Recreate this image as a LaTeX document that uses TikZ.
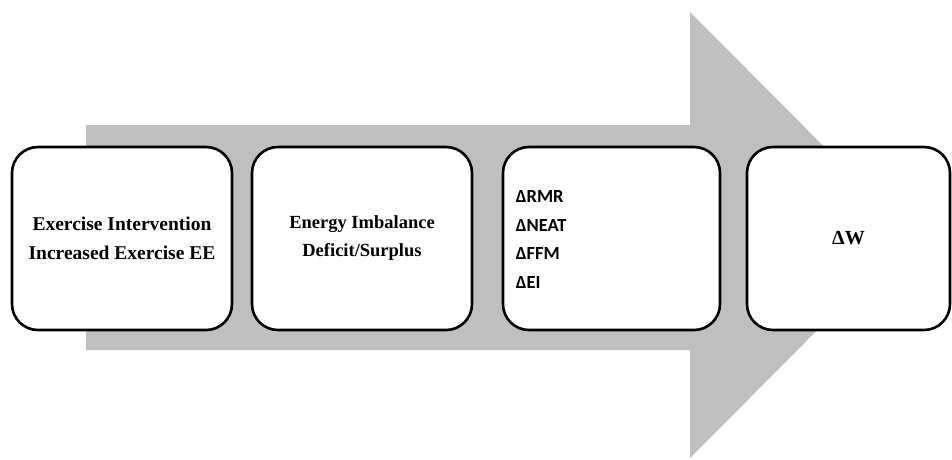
\documentclass[tikz,border=0pt]{standalone}
\usepackage{fontspec}
\setmainfont{Liberation Serif}
\newfontfamily\calibfont{Carlito}
\usetikzlibrary{positioning}
\definecolor{ArrowGray}{RGB}{191, 191, 191}
\tikzset{
  stage/.style={rectangle, rounded corners=26pt, draw=black, fill=white, line width=2.6pt,
    minimum height=183pt, align=center, inner sep=2pt, font=\fontsize{19.5}{29}\selectfont\bfseries},
  listtxt/.style={align=left, inner sep=0pt, font=\calibfont\fontsize{18.5}{28.5}\selectfont\bfseries},
}
\begin{document}
\begin{tikzpicture}[x=1pt, y=-1pt]
  \useasboundingbox (0,0) rectangle (952,459);
  % big arrow behind the stages
  \fill[ArrowGray] (86,125) -- (690,125) -- (690,12) -- (912,235) -- (690,458)
    -- (690,350) -- (86,350) -- cycle;
  \node[stage, minimum width=220pt] (inter) at (122,238.5)
    {Exercise Intervention\\Increased Exercise EE};
  \node[stage, minimum width=220pt, font=\fontsize{18.5}{28}\selectfont\bfseries] (imbal) at (362,238.5)
    {Energy Imbalance\\Deficit/Surplus};
  \node[stage, minimum width=217pt] (comp) at (611.5,238.5) {};
  \node[listtxt, anchor=west] (complist) at ([xshift=14pt, yshift=-1pt]comp.west)
    {ΔRMR\\ΔNEAT\\ΔFFM\\ΔEI};
  \node[stage, minimum width=203pt, font=\fontsize{20}{24}\selectfont\bfseries] (weight) at (848.5,238.5) {ΔW};
\end{tikzpicture}
\end{document}
